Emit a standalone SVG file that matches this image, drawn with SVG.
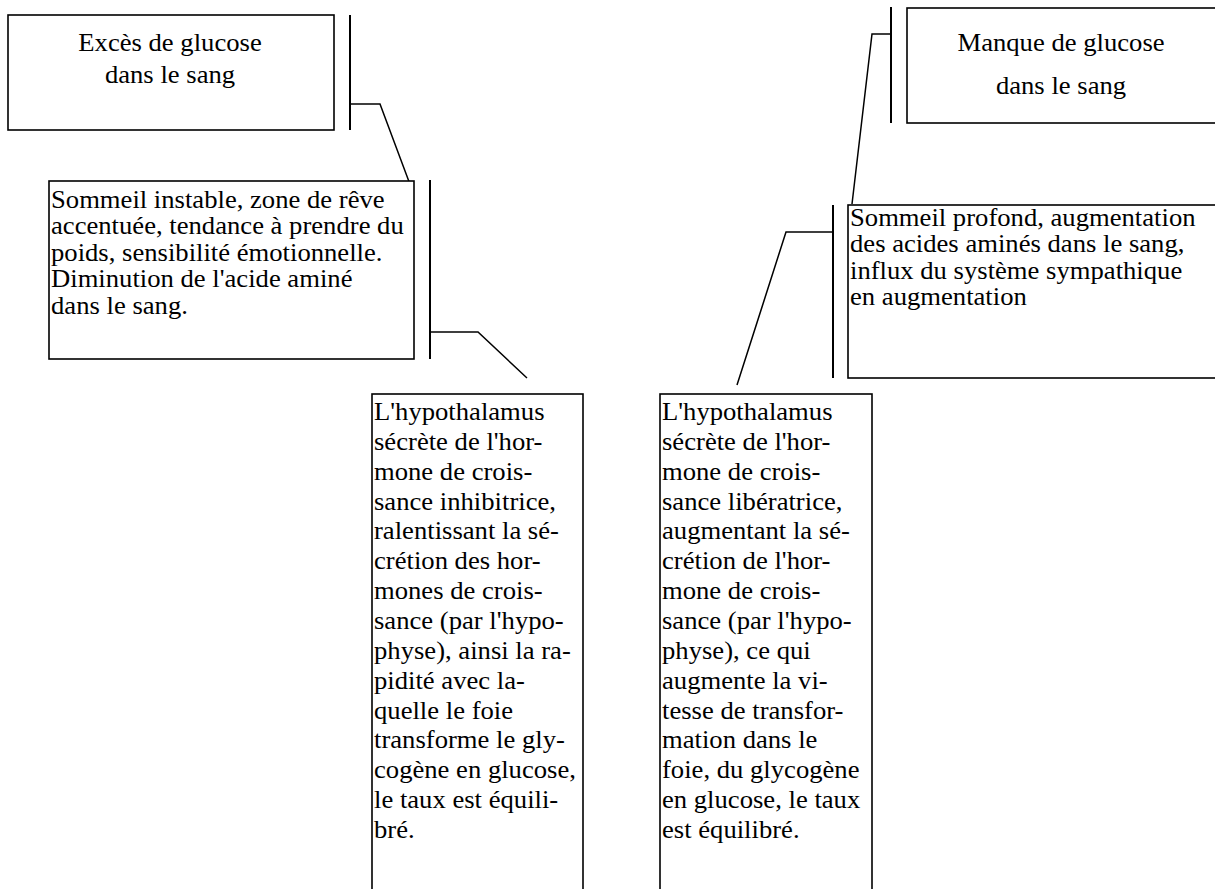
<svg xmlns="http://www.w3.org/2000/svg" width="1215" height="889" viewBox="0 0 1215 889">
<style>
.box{fill:#fff;stroke:#000;stroke-width:1.6}
.bar{stroke:#000;stroke-width:2;fill:none}
.conn{stroke:#000;stroke-width:1.5;fill:none}
text{font-family:"Liberation Serif","Times New Roman",serif;font-size:25px;fill:#000}
.c{text-anchor:middle}
</style>
<rect width="1215" height="889" fill="#fff"/>
<g id="connectors">
<line class="bar" x1="350" y1="15" x2="350" y2="130"/>
<polyline class="conn" points="350,104 380,104 411,187"/>
<line class="bar" x1="430" y1="180" x2="430" y2="359"/>
<polyline class="conn" points="430,332 478,332 527,378"/>
<line class="bar" x1="891" y1="7" x2="891" y2="123"/>
<polyline class="conn" points="891,34 872,34 852,204"/>
<line class="bar" x1="833" y1="205" x2="833" y2="378"/>
<polyline class="conn" points="833,232 786,232 737,385"/>
</g>
<g id="exces">
<rect class="box" x="8" y="15" width="326" height="115"/>
<g transform="translate(170 0) scale(1.066 1)">
<text class="c"><tspan x="0" y="51">Excès de glucose</tspan><tspan x="0" y="83">dans le sang</tspan></text>
</g>
</g>
<g id="manque">
<rect class="box" x="907" y="8" width="320" height="115"/>
<g transform="translate(1061 0) scale(1.066 1)">
<text class="c"><tspan x="0" y="51">Manque de glucose</tspan><tspan x="0" y="94">dans le sang</tspan></text>
</g>
</g>
<g id="sommeil-instable">
<rect class="box" x="49" y="181" width="365" height="178"/>
<g transform="translate(51 0) scale(1.066 1)">
<text><tspan x="0" y="208">Sommeil instable, zone de rêve</tspan><tspan x="0" y="234.5">accentuée, tendance à prendre du</tspan><tspan x="0" y="261">poids, sensibilité émotionnelle.</tspan><tspan x="0" y="287.5">Diminution de l'acide aminé</tspan><tspan x="0" y="314">dans le sang.</tspan></text>
</g>
</g>
<g id="sommeil-profond">
<rect class="box" x="848" y="205" width="380" height="173"/>
<g transform="translate(850 0) scale(1.066 1)">
<text><tspan x="0" y="226">Sommeil profond, augmentation</tspan><tspan x="0" y="252.3">des acides aminés dans le sang,</tspan><tspan x="0" y="278.6">influx du système sympathique</tspan><tspan x="0" y="305">en augmentation</tspan></text>
</g>
</g>
<g id="hypothalamus-inhibitrice">
<rect class="box" x="372" y="394" width="211" height="510"/>
<g transform="translate(374 0) scale(1.066 1)">
<text><tspan x="0" y="420">L'hypothalamus</tspan><tspan x="0" y="449.9">sécrète de l'hor-</tspan><tspan x="0" y="479.7">mone de crois-</tspan><tspan x="0" y="509.6">sance inhibitrice,</tspan><tspan x="0" y="539.4">ralentissant la sé-</tspan><tspan x="0" y="569.3">crétion des hor-</tspan><tspan x="0" y="599.2">mones de crois-</tspan><tspan x="0" y="629">sance (par l'hypo-</tspan><tspan x="0" y="658.9">physe), ainsi la ra-</tspan><tspan x="0" y="688.7">pidité avec la-</tspan><tspan x="0" y="718.6">quelle le foie</tspan><tspan x="0" y="748.5">transforme le gly-</tspan><tspan x="0" y="778.3">cogène en glucose,</tspan><tspan x="0" y="808.2">le taux est équili-</tspan><tspan x="0" y="838">bré.</tspan></text>
</g>
</g>
<g id="hypothalamus-liberatrice">
<rect class="box" x="660" y="394" width="212" height="510"/>
<g transform="translate(662 0) scale(1.066 1)">
<text><tspan x="0" y="420">L'hypothalamus</tspan><tspan x="0" y="449.9">sécrète de l'hor-</tspan><tspan x="0" y="479.7">mone de crois-</tspan><tspan x="0" y="509.6">sance libératrice,</tspan><tspan x="0" y="539.4">augmentant la sé-</tspan><tspan x="0" y="569.3">crétion de l'hor-</tspan><tspan x="0" y="599.2">mone de crois-</tspan><tspan x="0" y="629">sance (par l'hypo-</tspan><tspan x="0" y="658.9">physe), ce qui</tspan><tspan x="0" y="688.7">augmente la vi-</tspan><tspan x="0" y="718.6">tesse de transfor-</tspan><tspan x="0" y="748.5">mation dans le</tspan><tspan x="0" y="778.3">foie, du glycogène</tspan><tspan x="0" y="808.2">en glucose, le taux</tspan><tspan x="0" y="838">est équilibré.</tspan></text>
</g>
</g>
</svg>
